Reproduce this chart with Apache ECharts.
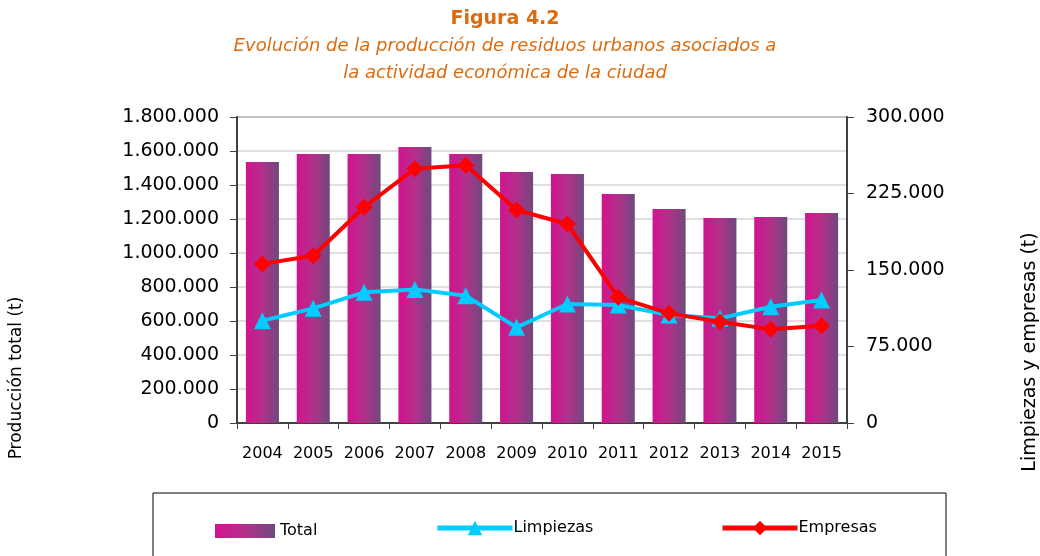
<!DOCTYPE html>
<html>
<head>
<meta charset="utf-8">
<script src="https://cdn.jsdelivr.net/npm/echarts@6/dist/echarts.min.js"></script>
<style>
  html, body { margin: 0; padding: 0; background: #fff; }
  #main { width: 1040px; height: 556px; }
</style>
</head>
<body>
<div id="main"></div>
<script>
// datos
var years = ['2004','2005','2006','2007','2008','2009','2010','2011','2012','2013','2014','2015'];
var total = [1535000, 1582000, 1582000, 1624000, 1582000, 1476000, 1465000, 1347000, 1259000, 1206000, 1212000, 1235000];
var limpiezas = [100300, 112400, 128100, 131000, 124800, 93800, 116700, 115700, 105900, 102600, 114000, 120600];
var empresas = [156000, 164000, 211500, 249300, 252600, 208800, 195100, 123200, 107500, 99300, 91800, 95400];

var fontAxis = 'DejaVu Sans';
var orange = '#DD6A0E';

function miles(v) {
    return String(v).replace(/\B(?=(\d{3})+(?!\d))/g, '.');
}

var myChart = echarts.init(document.getElementById('main'));

var option = {
    backgroundColor: '#fff',
    title: {
        text: 'Figura 4.2',
        subtext: 'Evolución de la producción de residuos urbanos asociados a\nla actividad económica de la ciudad',
        left: 500,
        top: 5,
        textAlign: 'center',
        itemGap: 4,
        textStyle: { color: orange, fontFamily: 'DejaVu Sans', fontWeight: 'bold', fontSize: 19 },
        subtextStyle: { color: orange, fontFamily: 'DejaVu Sans', fontStyle: 'italic', fontSize: 18, lineHeight: 27 }
    },
    grid: {
        left: 237, right: 193, top: 117, bottom: 133,
        show: true, borderColor: '#6b6b6b', borderWidth: 1.5
    },
    legend: [
        { data: [{ name: 'Total', icon: 'rect' }], left: 210, top: 518, itemWidth: 60, itemHeight: 14, itemGap: 5,
          textStyle: { fontFamily: fontAxis, fontSize: 16, color: '#000', padding: [0, 0, 0, 0] } },
        { data: ['Limpiezas'], left: 430, top: 515, itemWidth: 75, itemHeight: 18,
          lineStyle: { width: 5 },
          textStyle: { fontFamily: fontAxis, fontSize: 16, color: '#000', padding: [0, 0, 0, -4] } },
        { data: ['Empresas'], left: 715, top: 515, itemWidth: 75, itemHeight: 18,
          lineStyle: { width: 5 },
          textStyle: { fontFamily: fontAxis, fontSize: 16, color: '#000', padding: [0, 0, 0, -4] } }
    ],
    graphic: [
        { type: 'rect', shape: { x: 153, y: 493, width: 793, height: 80 },
          style: { fill: 'none', stroke: '#000', lineWidth: 1 } },
        { type: 'text', x: 17, y: 378, rotation: Math.PI / 2,
          style: { text: 'Producción total (t)', fontFamily: fontAxis, fontSize: 17, fill: '#000',
                   textAlign: 'center', textVerticalAlign: 'middle' } },
        { type: 'text', x: 1030, y: 352, rotation: Math.PI / 2,
          style: { text: 'Limpiezas y empresas (t)', fontFamily: fontAxis, fontSize: 19, fill: '#000',
                   textAlign: 'center', textVerticalAlign: 'middle' } }
    ],
    xAxis: {
        type: 'category',
        data: years,
        boundaryGap: true,
        axisLine: { lineStyle: { color: '#404040', width: 2 } },
        axisTick: { show: true, length: 6, lineStyle: { color: '#404040' } },
        axisLabel: { color: '#000', fontFamily: fontAxis, fontSize: 16, margin: 23, interval: 0 }
    },
    yAxis: [
        {
            type: 'value', min: 0, max: 1800000, interval: 200000,
            axisLine: { show: true, lineStyle: { color: '#404040', width: 2 } },
            axisTick: { show: true, length: 7, lineStyle: { color: '#404040' } },
            splitLine: { lineStyle: { color: '#d4d4d4', width: 1.5 } },
            axisLabel: { color: '#000', fontFamily: fontAxis, fontSize: 19, margin: 18, formatter: miles }
        },
        {
            type: 'value', min: 0, max: 300000, interval: 75000,
            axisLine: { show: true, lineStyle: { color: '#404040', width: 2 } },
            axisTick: { show: true, length: 7, lineStyle: { color: '#404040' } },
            splitLine: { show: false },
            axisLabel: { color: '#000', fontFamily: fontAxis, fontSize: 19, margin: 19, formatter: miles }
        }
    ],
    series: [
        {
            name: 'Total',
            type: 'bar',
            data: total,
            barWidth: '65%',
            itemStyle: {
                color: new echarts.graphic.LinearGradient(0, 0, 1, 0, [
                    { offset: 0, color: '#D2138F' },
                    { offset: 0.5, color: '#B2308A' },
                    { offset: 1, color: '#6E4A7E' }
                ])
            }
        },
        {
            name: 'Limpiezas',
            type: 'line',
            yAxisIndex: 1,
            data: limpiezas,
            symbol: 'triangle',
            symbolSize: 17,
            lineStyle: { color: '#00CCFF', width: 4 },
            itemStyle: { color: '#00CCFF' },
            z: 3
        },
        {
            name: 'Empresas',
            type: 'line',
            yAxisIndex: 1,
            data: empresas,
            symbol: 'diamond',
            symbolSize: 17,
            lineStyle: { color: '#FF0000', width: 4 },
            itemStyle: { color: '#FF0000' },
            z: 4
        }
    ]
};

myChart.setOption(option);
</script>
</body>
</html>
